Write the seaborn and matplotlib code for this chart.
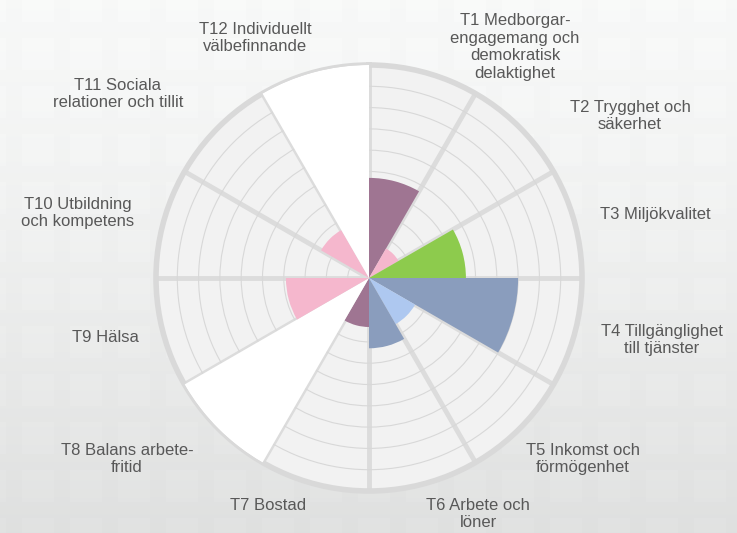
import numpy as np
import matplotlib.pyplot as plt
import seaborn as sns

# Sector labels and values (0-10 scale)
themes = ['T1 Medborgar-\nengagemang och\ndemokratisk\ndelaktighet',
          'T2 Trygghet och\nsäkerhet',
          'T3 Miljökvalitet',
          'T4 Tillgänglighet\ntill tjänster',
          'T5 Inkomst och\nförmögenhet',
          'T6 Arbete och\nlöner',
          'T7 Bostad',
          'T8 Balans arbete-\nfritid',
          'T9 Hälsa',
          'T10 Utbildning\noch kompetens',
          'T11 Sociala\nrelationer och tillit',
          'T12 Individuellt\nvälbefinnande']
values = [4.7, 1.6, 4.55, 7.0, 2.5, 3.3, 2.3, 10.0, 3.9, 0.0, 2.6, 10.0]
colors = ['#9f7592', '#f5b7cd', '#8dcb4d', '#8a9dbd', '#aec8f0', '#8a9dbd',
          '#9f7592', '#ffffff', '#f5b7cd', '#f5b7cd', '#f5b7cd', '#ffffff']

# label anchor points in figure pixels (centre of each text block)
label_pos = [(515, 47), (630, 116), (655, 215), (662, 340), (583, 459), (478, 514),
             (268, 505), (127, 459), (105, 338), (78, 213), (118, 94), (255, 38)]

sns.set_theme(style='white')
plt.rcParams['font.family'] = ['Liberation Sans Narrow', 'Liberation Sans', 'DejaVu Sans']

W, H = 737, 533
fig = plt.figure(figsize=(W / 100, H / 100), dpi=100)

# grey gradient background with faint tiles
yy, xx = np.mgrid[0:H, 0:W]
shade = 0.969 - 0.095 * (yy / H) ** 1.3
tiles = ((xx + 26) % 48 < 32) & ((yy + 10) % 48 < 32)
shade = shade + 0.008 * tiles
img = np.dstack([shade, shade + 0.004, shade + 0.002]).clip(0, 1)
bg = fig.add_axes([0, 0, 1, 1])
bg.imshow(img, aspect='auto', interpolation='bilinear')
bg.set_axis_off()

cx, cy, R = 369, 278, 213
ax = fig.add_axes([(cx - R) / W, (H - cy - R) / H, 2 * R / W, 2 * R / H], projection='polar')
ax.set_theta_zero_location('N')
ax.set_theta_direction(-1)
ax.set_facecolor('#f2f2f2')

n = len(values)
width = 2 * np.pi / n
theta = np.arange(n) * width + width / 2

# rings and spokes underneath the bars
ax.set_ylim(0, 10)
ax.set_yticks(np.arange(1, 10))
ax.set_xticks(np.arange(n) * width)
ax.set_xticklabels([])
ax.set_yticklabels([])
ax.yaxis.grid(True, color='#d8d8d8', linewidth=0.8)
ax.xaxis.grid(True, color='#dcdcdc', linewidth=3.5)
ax.set_axisbelow(True)
ax.spines['polar'].set_color('#d9d9d9')
ax.spines['polar'].set_linewidth(4)

ax.bar(theta, values, width=width, color=colors, edgecolor='none', zorder=3)

for txt, (x, y) in zip(themes, label_pos):
    fig.text(x / W, 1 - y / H, txt, ha='center', va='center', fontsize=12,
             color='#585858', linespacing=1.2)

fig.savefig('out.png', dpi=100)
